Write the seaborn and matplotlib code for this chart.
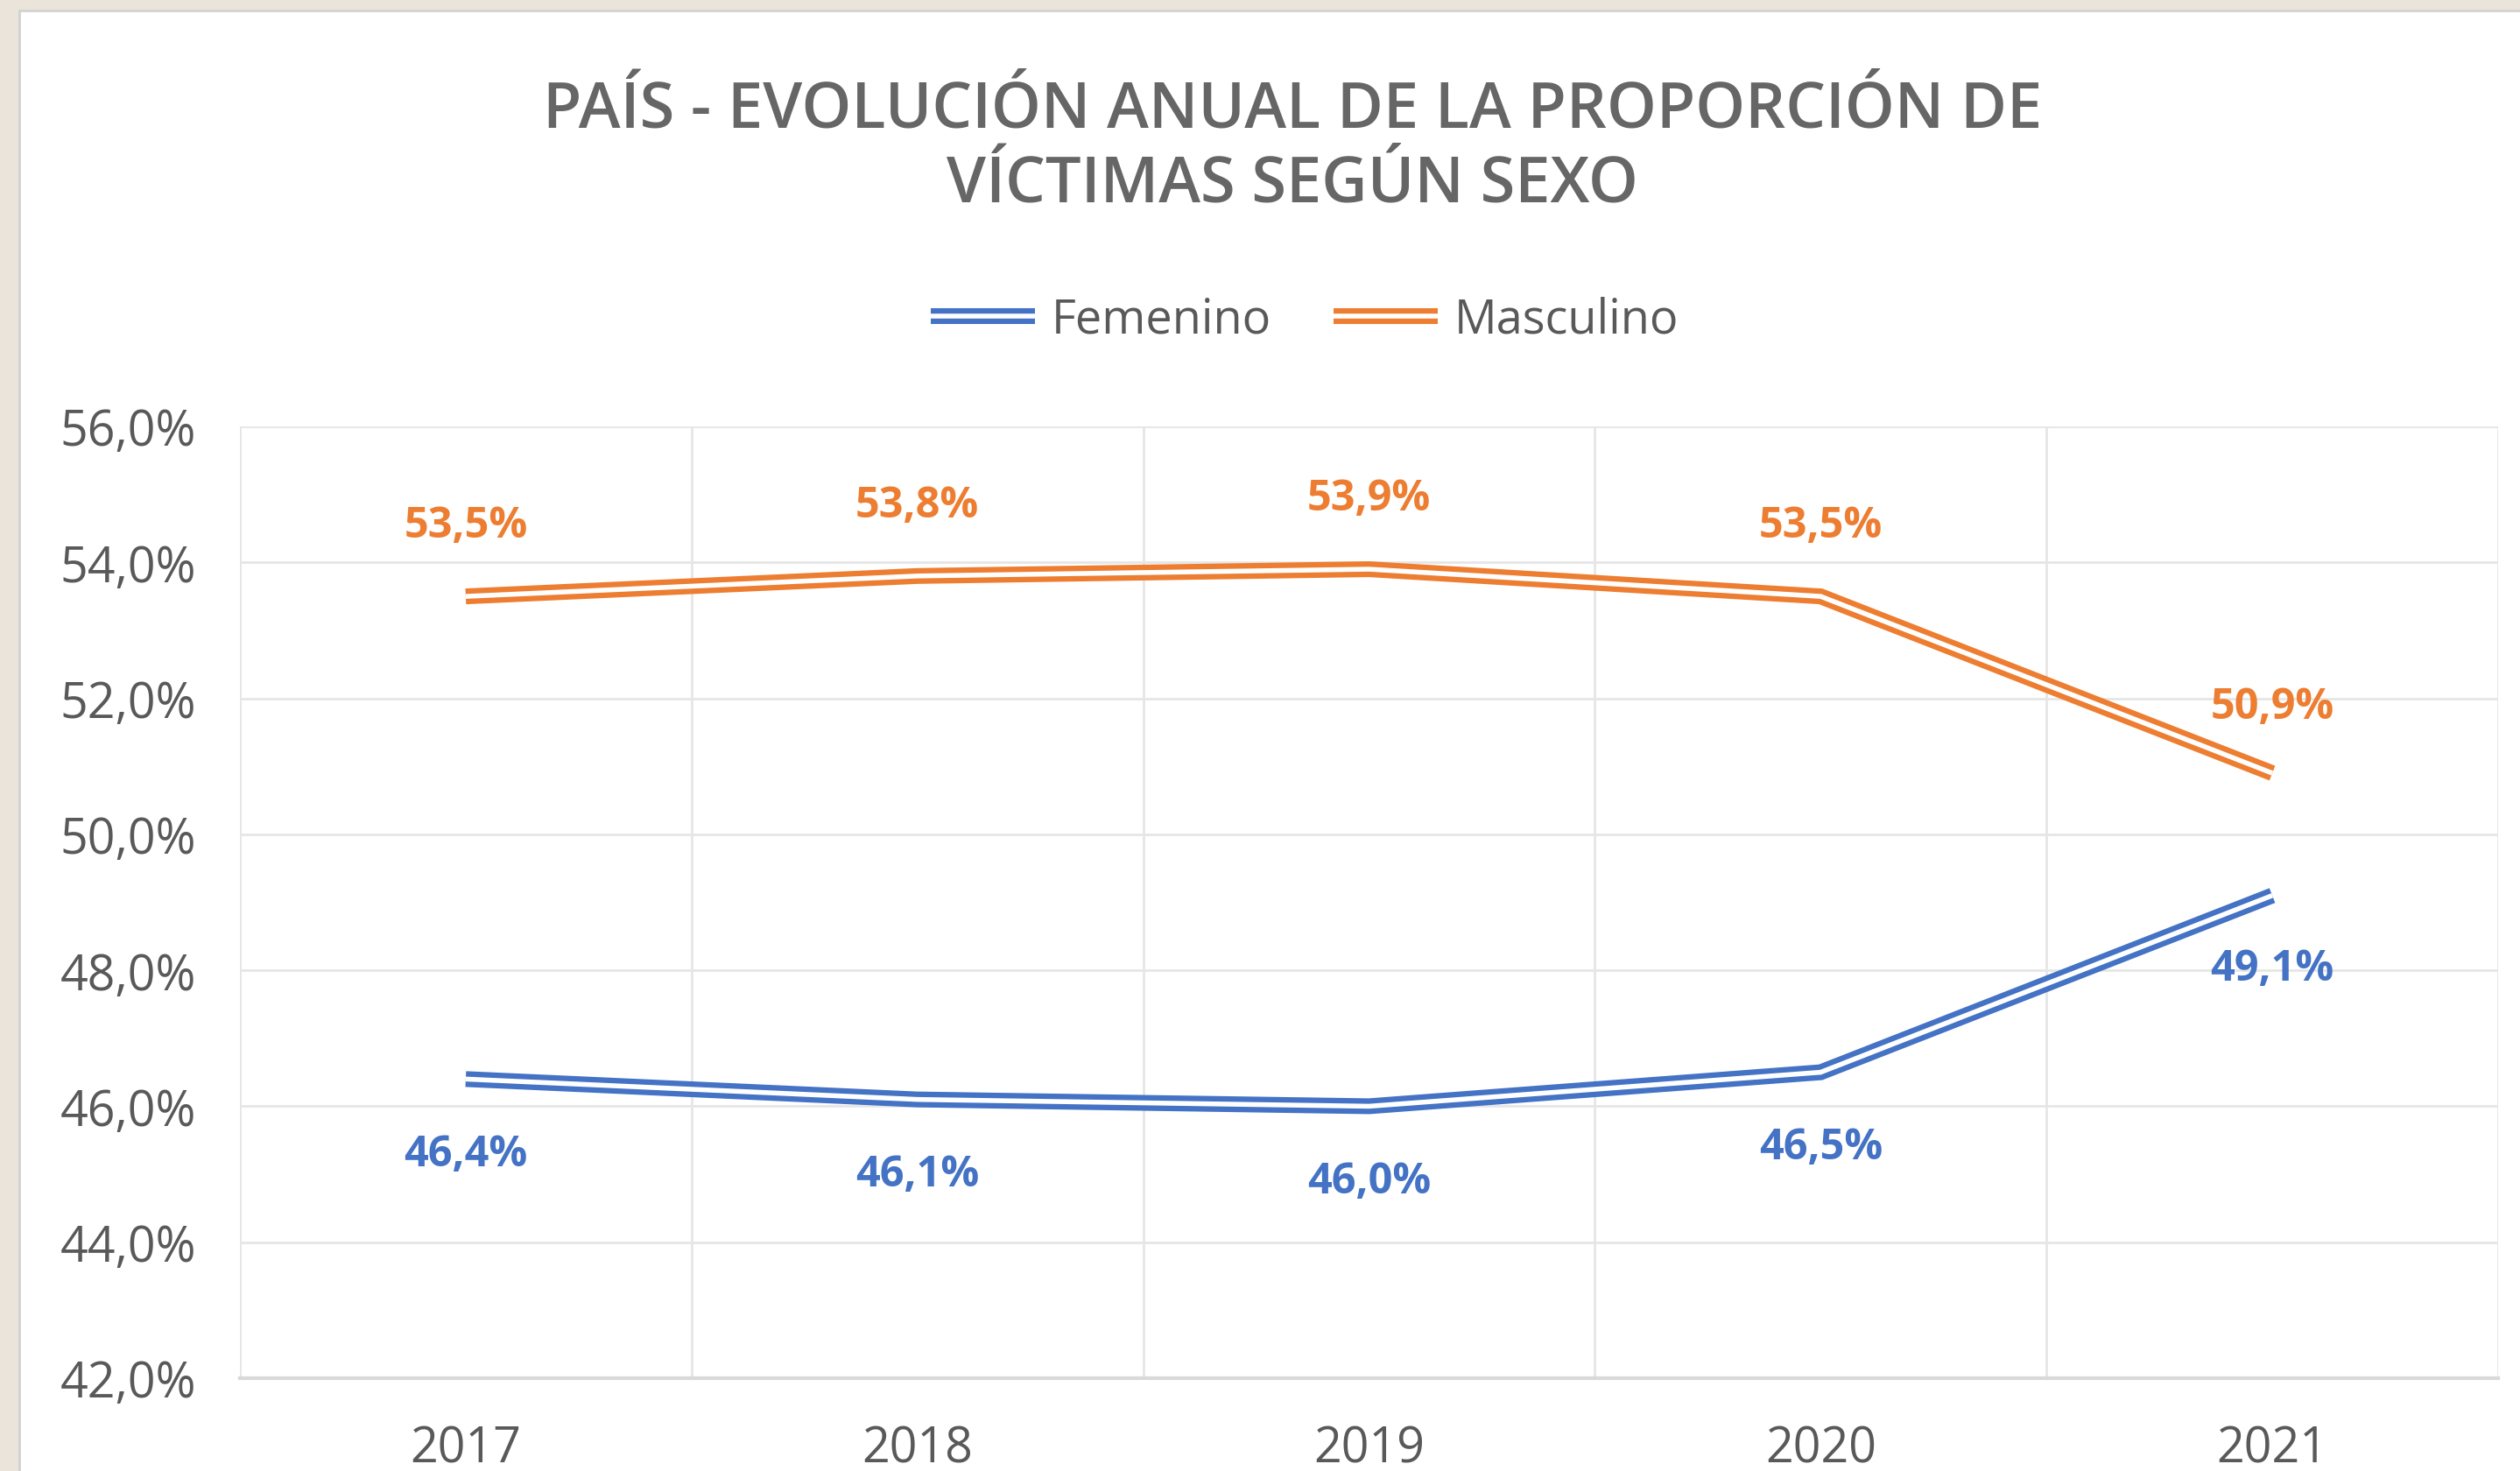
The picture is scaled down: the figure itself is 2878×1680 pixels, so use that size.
import pandas as pd
import matplotlib.pyplot as plt
import matplotlib.patheffects as pe
from matplotlib.lines import Line2D
from matplotlib.patches import Rectangle
from matplotlib.ticker import FuncFormatter, FixedLocator
import seaborn as sns

# data
years = ['2017', '2018', '2019', '2020', '2021']
femenino = [46.4, 46.1, 46.0, 46.5, 49.1]
masculino = [53.5, 53.8, 53.9, 53.5, 50.9]
series_names = ['Femenino', 'Masculino']
y_ticks = [42, 44, 46, 48, 50, 52, 54, 56]

title = 'PAÍS - EVOLUCIÓN ANUAL DE LA PROPORCIÓN DE\nVÍCTIMAS SEGÚN SEXO'

colors = {'Femenino': '#4472C4', 'Masculino': '#ED7D31'}
grey_txt = '#595959'

df = pd.DataFrame({
    'year': years * 2,
    'valor': femenino + masculino,
    'sexo': ['Femenino'] * len(years) + ['Masculino'] * len(years),
})

sns.set_style('white')
plt.rcParams['font.family'] = ['Open Sans', 'DejaVu Sans']

W, H = 2878, 1681
fig = plt.figure(figsize=(W / 100, H / 100), dpi=100)
fig.patch.set_facecolor('#EBE4DA')

# white chart panel (runs off right/bottom edge like the screenshot)
fig.patches.append(Rectangle((22 / W, -0.05), 1.1, 1 - 13 / H + 0.05,
                             transform=fig.transFigure, facecolor='white',
                             edgecolor='#D2D2D2', linewidth=2, zorder=0))

ax = fig.add_axes([274 / W, 106 / H, (2853 - 274) / W, (1575 - 488) / H])
ax.set_facecolor('none')
ax.set_zorder(2)

sns.lineplot(data=df, x='year', y='valor', hue='sexo', palette=colors,
             linewidth=12, legend=False, ax=ax, sort=False)

# double (compound) line look
def double_line(c):
    return [pe.Stroke(linewidth=13, foreground=c, capstyle='butt', joinstyle='miter'),
            pe.Stroke(linewidth=4, foreground='white', capstyle='butt', joinstyle='miter')]

for line, name in zip(ax.lines, series_names):
    line.set_path_effects(double_line(colors[name]))

ax.set_xlim(-0.5, len(years) - 0.5)
ax.set_ylim(42, 56)
ax.yaxis.set_major_locator(FixedLocator(y_ticks))
ax.yaxis.set_major_formatter(FuncFormatter(lambda v, p: f'{v:.1f}%'.replace('.', ',')))
ax.xaxis.set_minor_locator(FixedLocator([i - 0.5 for i in range(len(years) + 1)]))

ax.grid(axis='y', which='major', color='#E6E6E6', linewidth=2)
ax.grid(axis='x', which='minor', color='#E6E6E6', linewidth=2)
ax.grid(axis='x', which='major', visible=False)
for s in ['top', 'right', 'left']:
    ax.spines[s].set_visible(False)
ax.spines['bottom'].set_color('#D9D9D9')
ax.spines['bottom'].set_linewidth(3)

ax.tick_params(axis='both', which='both', length=0)
ax.tick_params(axis='y', labelsize=40, labelcolor=grey_txt, pad=36)
ax.tick_params(axis='x', labelsize=40, labelcolor=grey_txt, pad=38)
ax.set_xlabel('')
ax.set_ylabel('')

# data labels
for i, v in enumerate(masculino):
    ax.annotate(f'{v:.1f}%'.replace('.', ','), (i, v), xytext=(0, 58 if i < 4 else 54),
                textcoords='offset points', ha='center', va='center',
                fontsize=35, fontweight='bold', color=colors['Masculino'])
for i, v in enumerate(femenino):
    ax.annotate(f'{v:.1f}%'.replace('.', ','), (i, v), xytext=(0, -62 if i < 4 else -60),
                textcoords='offset points', ha='center', va='center',
                fontsize=35, fontweight='bold', color=colors['Femenino'])

# title
fig.text(1476 / W, 1 - 90 / H, title, ha='center', va='top', multialignment='center',
         fontsize=52, fontweight='semibold', color='#666666', linespacing=1.25)

# legend with double-line handles
handles = [Line2D([], [], color=colors[n], path_effects=double_line(colors[n])) for n in series_names]
fig.legend(handles, series_names, loc='center', bbox_to_anchor=(1490 / W, 1 - 366 / H),
           ncol=2, frameon=False, fontsize=39, handlelength=2.2, handletextpad=0.35,
           columnspacing=1.3, labelcolor=grey_txt)

fig.savefig('out.png', dpi=100, facecolor=fig.get_facecolor())
